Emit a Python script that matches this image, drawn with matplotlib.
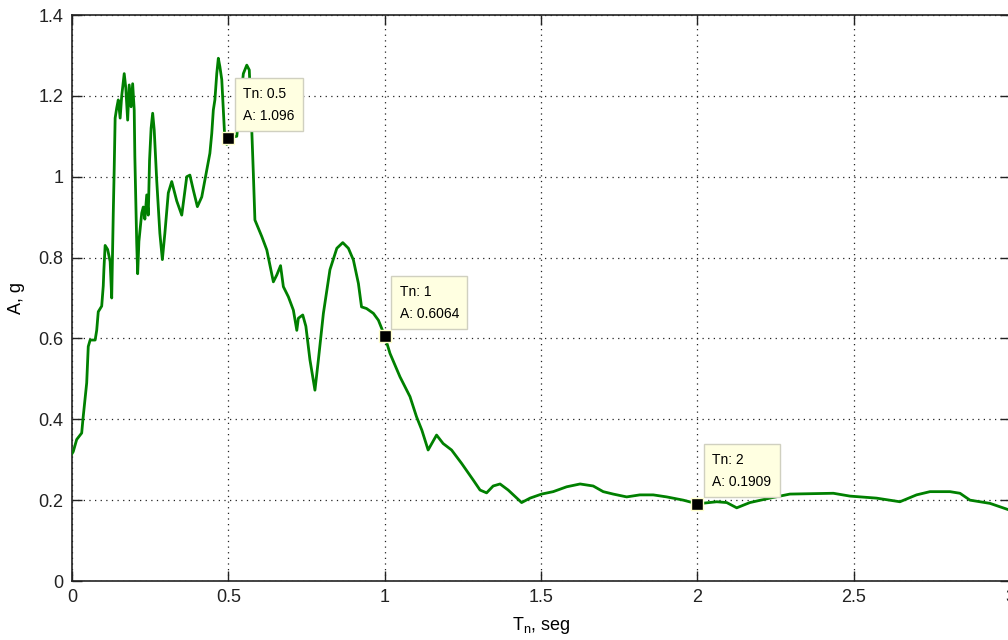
import matplotlib
matplotlib.use("Agg")
import matplotlib.pyplot as plt
import numpy as np

# spectrum (period Tn in s, A in g)
tn = [0.0, 0.004, 0.015, 0.031, 0.035, 0.047, 0.052, 0.058, 0.074, 0.079,
      0.084, 0.095, 0.100, 0.102, 0.106, 0.114, 0.122, 0.127, 0.132, 0.135,
      0.138, 0.143, 0.148, 0.154, 0.159, 0.167, 0.172, 0.178, 0.183, 0.189,
      0.194, 0.199, 0.201, 0.207, 0.210, 0.214, 0.223, 0.228, 0.233, 0.239,
      0.244, 0.248, 0.253, 0.258, 0.263, 0.268, 0.271, 0.281, 0.289, 0.297,
      0.308, 0.319, 0.335, 0.351, 0.367, 0.377, 0.388, 0.401, 0.415, 0.431,
      0.441, 0.447, 0.452, 0.457, 0.463, 0.468, 0.473, 0.479, 0.484, 0.489,
      0.495, 0.500, 0.527, 0.537, 0.548, 0.559, 0.567, 0.575, 0.580, 0.585,
      0.607, 0.623, 0.644, 0.655, 0.667, 0.676, 0.692, 0.708, 0.719, 0.724,
      0.738, 0.748, 0.761, 0.777, 0.788, 0.804, 0.825, 0.847, 0.866, 0.884,
      0.900, 0.916, 0.926, 0.942, 0.964, 0.980, 1.000, 1.017, 1.049, 1.081,
      1.102, 1.119, 1.139, 1.166, 1.187, 1.214, 1.246, 1.283, 1.305, 1.326,
      1.347, 1.369, 1.395, 1.438, 1.465, 1.502, 1.539, 1.582, 1.625, 1.667,
      1.699, 1.731, 1.774, 1.816, 1.859, 1.902, 1.955, 2.000, 2.062, 2.094,
      2.126, 2.168, 2.232, 2.296, 2.435, 2.488, 2.573, 2.648, 2.701, 2.744,
      2.808, 2.840, 2.872, 2.936, 2.993, 3.0]
acc = [0.315, 0.32, 0.35, 0.366, 0.40, 0.49, 0.58, 0.596, 0.596, 0.62,
       0.666, 0.68, 0.73, 0.77, 0.83, 0.82, 0.79, 0.70, 0.91, 1.02,
       1.145, 1.17, 1.19, 1.145, 1.20, 1.255, 1.22, 1.14, 1.227, 1.173,
       1.23, 1.165, 1.05, 0.835, 0.76, 0.84, 0.91, 0.925, 0.895, 0.955,
       0.905, 1.04, 1.12, 1.157, 1.115, 1.04, 0.99, 0.86, 0.795, 0.86,
       0.96, 0.988, 0.94, 0.905, 1.0, 1.004, 0.967, 0.926, 0.95, 1.017,
       1.058, 1.107, 1.165, 1.19, 1.255, 1.293, 1.272, 1.24, 1.165, 1.09,
       1.08, 1.096, 1.10, 1.173, 1.255, 1.276, 1.264, 1.115, 1.008, 0.893,
       0.852, 0.819, 0.74, 0.757, 0.78, 0.728, 0.703, 0.67, 0.62, 0.65,
       0.658, 0.63, 0.547, 0.472, 0.547, 0.662, 0.77, 0.823, 0.837, 0.823,
       0.794, 0.736, 0.678, 0.674, 0.662, 0.645, 0.6064, 0.563, 0.505, 0.456,
       0.406, 0.373, 0.324, 0.361, 0.34, 0.324, 0.291, 0.25, 0.225, 0.218,
       0.235, 0.24, 0.225, 0.194, 0.205, 0.215, 0.221, 0.233, 0.24, 0.235,
       0.221, 0.215, 0.208, 0.213, 0.213, 0.208, 0.20, 0.1909, 0.196, 0.194,
       0.181, 0.194, 0.205, 0.215, 0.217, 0.21, 0.205, 0.196, 0.213, 0.221,
       0.221, 0.217, 0.20, 0.192, 0.177, 0.175]

tip_tn = [0.5, 1, 2]
tip_acc = [1.096, 0.6064, 0.1909]
tip_labels = ["0.5", "1", "2"]
tip_acc_labels = ["1.096", "0.6064", "0.1909"]

xticks = [0, 0.5, 1, 1.5, 2, 2.5, 3]
xtick_labels = ["0", "0.5", "1", "1.5", "2", "2.5", "3"]
yticks = [0, 0.2, 0.4, 0.6, 0.8, 1.0, 1.2, 1.4]
ytick_labels = ["0", "0.2", "0.4", "0.6", "0.8", "1", "1.2", "1.4"]

plt.rcParams['font.family'] = ['Liberation Sans', 'DejaVu Sans']

fig = plt.figure(figsize=(10.08, 6.4), dpi=100)
ax = fig.add_axes([72 / 1008, 59 / 640, 938 / 1008, 566 / 640])

ax.plot(tn, acc, color="#008000", lw=2.0, zorder=3)
ax.plot(tip_tn, tip_acc, ls="none", marker="s", ms=8, mfc="black",
        mec="#ffffcc", mew=1.0, zorder=5)

for x, y, lx, ly in zip(tip_tn, tip_acc, tip_labels, tip_acc_labels):
    ax.annotate(f"Tn: {lx}\nA: {ly}", xy=(x, y), xytext=(15, 15),
                textcoords="offset pixels", ha="left", va="bottom",
                fontsize=10, linespacing=1.75, zorder=6,
                bbox=dict(boxstyle="square,pad=0.6", fc="#ffffe1",
                          ec="#d0d0c0", lw=1.0))

ax.set_xlim(0, 3)
ax.set_ylim(0, 1.4)
ax.set_xticks(xticks)
ax.set_xticklabels(xtick_labels)
ax.set_yticks(yticks)
ax.set_yticklabels(ytick_labels)
ax.tick_params(direction="in", length=7, width=1, top=True, right=True,
               labelsize=13, pad=6, colors="#222222")
ax.grid(True, color="#222222", linestyle=(0, (1, 3.5)), lw=0.9)
for s in ax.spines.values():
    s.set_linewidth(1.2)
    s.set_color("#222222")

ax.set_xlabel(r"T$_\mathregular{n}$, seg", fontsize=13, labelpad=6)
ax.set_ylabel("A, g", fontsize=13, labelpad=10)

fig.savefig("out.png", dpi=100)
